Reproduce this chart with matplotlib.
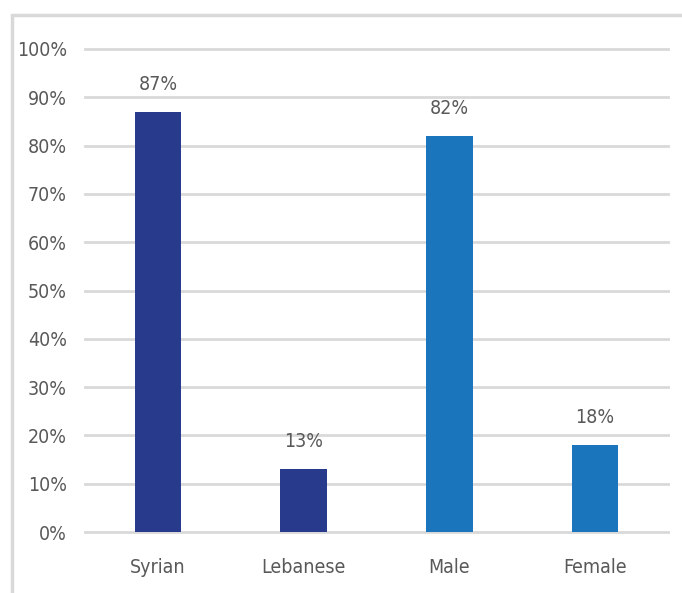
import matplotlib.pyplot as plt
from matplotlib.patches import Rectangle
from matplotlib.ticker import PercentFormatter

categories = ['Syrian', 'Lebanese', 'Male', 'Female']
values = [87, 13, 82, 18]
colors = ['#283a8c', '#283a8c', '#1b75bc', '#1b75bc']

plt.rcParams['font.family'] = ['DejaVu Sans']
plt.rcParams['font.stretch'] = 'condensed'
text_color = '#595959'

fig = plt.figure(figsize=(6.82, 5.93), dpi=100)
ax = fig.add_axes([85 / 682, 1 - 532 / 593, (668 - 85) / 682, (532 - 49) / 593])

# light frame around chart area
fig.patches.append(Rectangle((12 / 682, -0.05), 1.0, 1 - 15 / 593 + 0.05,
                             transform=fig.transFigure, fill=False,
                             edgecolor='#d9d9d9', linewidth=2.5))

x = range(len(categories))
ax.bar(x, values, width=0.32, color=colors, zorder=3)

for i, v in enumerate(values):
    ax.annotate(f'{v}%', (i, v), xytext=(0, 20), textcoords='offset points',
                ha='center', va='center', fontsize=14, color=text_color)

ax.set_xlim(-0.5, 3.5)
ax.set_ylim(0, 100)
ax.set_yticks(range(0, 101, 10))
ax.yaxis.set_major_formatter(PercentFormatter(decimals=0))
ax.set_xticks(list(x))
ax.set_xticklabels(categories)
ax.tick_params(axis='both', length=0, labelsize=14, labelcolor=text_color)
ax.tick_params(axis='x', pad=19)
ax.tick_params(axis='y', pad=13)

ax.grid(axis='y', color='#d9d9d9', linewidth=2, zorder=0)
for g in ax.get_ygridlines():
    g.set_clip_on(False)
for s in ax.spines.values():
    s.set_visible(False)

fig.savefig('out.png', dpi=100)
